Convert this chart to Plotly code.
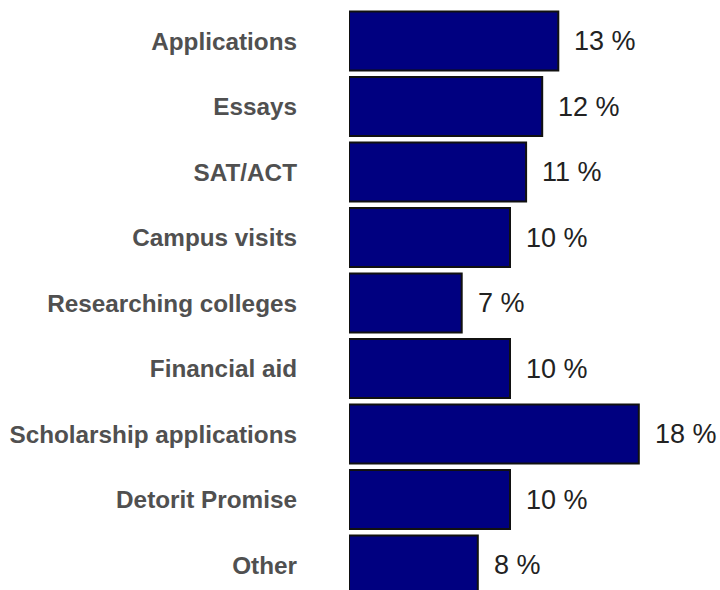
import plotly.graph_objects as go

# Share of students naming each topic (percent)
categories = [
    "Applications",
    "Essays",
    "SAT/ACT",
    "Campus visits",
    "Researching colleges",
    "Financial aid",
    "Scholarship applications",
    "Detorit Promise",
    "Other",
]
percent = [13, 12, 11, 10, 7, 10, 18, 10, 8]
value_labels = [f"{v} %" for v in percent]

W, H = 720, 590
left = 349
px_per_unit = 16.1
row_px = 65.5
first_center = 41

fig = go.Figure(
    go.Bar(
        x=percent,
        y=categories,
        orientation="h",
        marker=dict(color="#000080", line=dict(color="#111111", width=2)),
        width=0.9,
        hoverinfo="skip",
    )
)

for cat, v, lab in zip(categories, percent, value_labels):
    fig.add_annotation(
        x=v, y=cat, text=lab, showarrow=False,
        xanchor="left", yanchor="middle", xshift=14,
        font=dict(family="Liberation Sans, Arial, sans-serif", size=27, color="#222222"),
    )

# Vertical range chosen so the last bar runs off the bottom edge
y_top = -first_center / row_px
y_bot = (H - first_center) / row_px
fig.update_layout(
    width=W, height=H,
    margin=dict(l=left, r=0, t=0, b=0),
    paper_bgcolor="white", plot_bgcolor="white",
    showlegend=False,
    xaxis=dict(range=[0, (W - left) / px_per_unit], visible=False),
    yaxis=dict(
        categoryorder="array", categoryarray=categories,
        range=[y_bot, y_top], autorange=False,
        showgrid=False, zeroline=False, showline=False, ticks="",
        ticklabelstandoff=51,
        tickfont=dict(family="Liberation Sans, Arial, sans-serif", size=24.3,
                      color="#505050", weight="bold"),
    ),
)

fig.write_html("out.html")
